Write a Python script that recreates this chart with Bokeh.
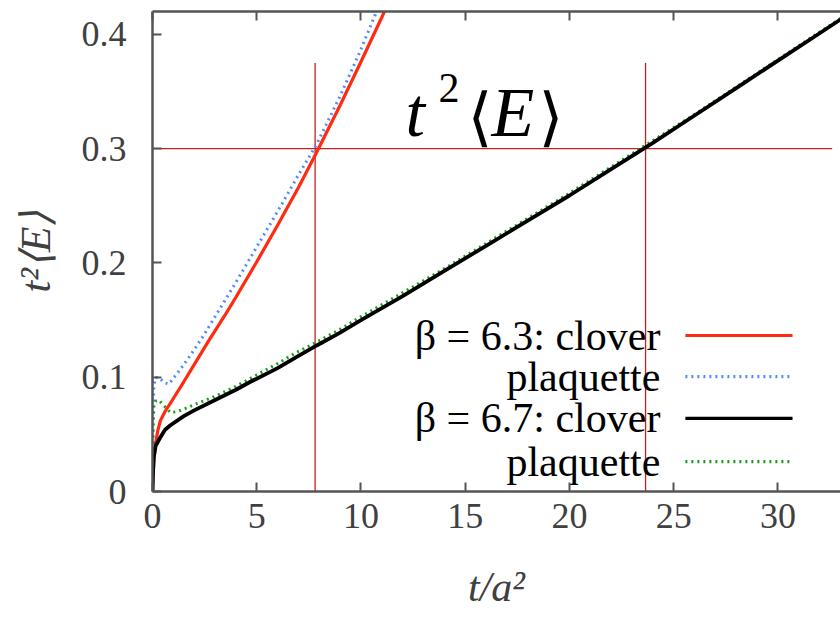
import numpy as np
from bokeh.plotting import figure
from bokeh.models import LinearAxis, FixedTicker, Range1d
from bokeh.core.properties import value
from bokeh.embed import file_html
from bokeh.resources import INLINE

# ---- data ----
red_t = [0, 0.03, 0.07, 0.15, 0.25, 0.38, 0.6, 0.94, 1.5, 2.0, 2.7, 3.5, 4.0, 5.0, 6.0, 7.0, 7.85, 9.0, 10.0, 11.0, 11.5]
red_v = [0, 0.015, 0.028, 0.042, 0.053, 0.062, 0.070, 0.0796, 0.096, 0.111, 0.132, 0.155, 0.170, 0.201, 0.233, 0.266, 0.296, 0.338, 0.376, 0.415, 0.435]

blue_t = [0, 0.01, 0.03, 0.07, 0.12, 0.22, 0.4, 0.6, 0.78, 1.0, 1.5, 2.0, 2.5, 3.0, 3.5, 4.0, 5.0, 6.0, 7.0, 7.85, 9.0, 10.0, 10.7, 11.0]
blue_v = [0, 0.030, 0.070, 0.092, 0.099, 0.100, 0.098, 0.095, 0.094, 0.099, 0.111, 0.124, 0.138, 0.153, 0.168, 0.183, 0.214, 0.245, 0.277, 0.303, 0.346, 0.387, 0.418, 0.431]

black_t = [0, 0.02, 0.06, 0.15, 0.38, 0.6, 0.86, 1.5, 2.0, 3.1, 4.0, 4.7, 6.0, 6.94, 7.9, 9.0, 10.0, 12.0, 14.0, 16.0, 18.0, 20.0, 22.0, 24.0, 26.0, 28.0, 30.0, 32.0, 33.0]
black_v = [0, 0.015, 0.030, 0.040, 0.0475, 0.054, 0.058, 0.066, 0.071, 0.081, 0.089, 0.096, 0.108, 0.118, 0.128, 0.139, 0.150, 0.171, 0.193, 0.215, 0.237, 0.259, 0.282, 0.305, 0.329, 0.353, 0.377, 0.401, 0.413]

green_t = [0, 0.01, 0.03, 0.07, 0.15, 0.3, 0.5, 0.86, 1.2, 1.5, 2.0, 3.1, 4.0, 4.7, 6.0, 6.94, 7.9, 9.0, 10.0, 12.0, 14.0, 16.0, 18.0, 20.0, 22.0, 24.0, 26.0, 28.0, 30.0, 32.0, 33.0]
green_v = [0, 0.030, 0.060, 0.075, 0.079, 0.080, 0.076, 0.069, 0.070, 0.072, 0.076, 0.084, 0.092, 0.099, 0.112, 0.122, 0.131, 0.142, 0.153, 0.174, 0.195, 0.217, 0.239, 0.261, 0.284, 0.307, 0.330, 0.354, 0.378, 0.402, 0.414]

x_ticks = [0, 5, 10, 15, 20, 25, 30]
y_ticks = [0, 0.1, 0.2, 0.3, 0.4]
y_tick_labels = {0: "0", 0.1: "0.1", 0.2: "0.2", 0.3: "0.3", 0.4: "0.4"}

ref_y = 0.3
ref_x = [7.8, 23.65]
ref_top = 0.375
ref_h_end = 32.6

legend_labels = ["β = 6.3: clover", "plaquette", "β = 6.7: clover", "plaquette"]
legend_colors = ["#ff2a10", "#4d8cff", "#000000", "#1a9e1a"]
legend_dashes = ["solid", "2 4", "solid", "2 4"]
legend_y = [0.1365, 0.1006, 0.0639, 0.0262]
legend_text_x = 24.36
legend_line_x = [25.56, 30.7]

title_x = 12.13
title_y = 0.3316

FONT = "Liberation Serif"
AX_COL = "#555555"
LAB_COL = "#404040"

p = figure(width=840, height=620, output_backend="svg", toolbar_location=None,
           x_range=Range1d(0, 33), y_range=Range1d(0, 0.42),
           min_border_left=152, min_border_right=0, min_border_top=11, min_border_bottom=129)
p.xgrid.visible = False
p.ygrid.visible = False
p.outline_line_color = None
p.background_fill_color = "white"
p.border_fill_color = "white"

for ax in [p.xaxis[0], p.yaxis[0]]:
    ax.axis_line_color = AX_COL
    ax.axis_line_width = 2.5
    ax.major_tick_line_color = AX_COL
    ax.major_tick_line_width = 2
    ax.major_tick_in = 9
    ax.major_tick_out = 0
    ax.minor_tick_line_color = None
    ax.major_label_text_font = FONT
    ax.major_label_text_font_size = "36px"
    ax.major_label_text_color = LAB_COL
    ax.axis_label_text_font = FONT
    ax.axis_label_text_font_size = "42px"
    ax.axis_label_text_font_style = "italic"
    ax.axis_label_text_color = LAB_COL

p.xaxis[0].ticker = FixedTicker(ticks=x_ticks)
p.xaxis[0].major_label_standoff = 12
p.xaxis[0].axis_label = "t/a²"
p.xaxis[0].axis_label_standoff = 33

p.yaxis[0].ticker = FixedTicker(ticks=y_ticks)
p.yaxis[0].major_label_overrides = y_tick_labels
p.yaxis[0].major_label_standoff = 26
p.yaxis[0].axis_label = "t²⟨E⟩"
p.yaxis[0].axis_label_standoff = 20

# mirrored ticks on the top edge (no labels)
top = LinearAxis(ticker=FixedTicker(ticks=x_ticks),
                 major_label_overrides={t: "" for t in x_ticks},
                 major_label_standoff=0, major_tick_in=9, major_tick_out=0,
                 axis_line_color=AX_COL, axis_line_width=2.5,
                 major_tick_line_color=AX_COL, major_tick_line_width=2,
                 minor_tick_line_color=None)
p.add_layout(top, "above")

# reference lines
p.segment(x0=[0], y0=[ref_y], x1=[ref_h_end], y1=[ref_y], line_color="#c42020", line_width=1.3)
p.segment(x0=ref_x, y0=[0, 0], x1=ref_x, y1=[ref_top, ref_top], line_color="#c42020", line_width=1.3)

# curves
p.line(blue_t, blue_v, line_color=legend_colors[1], line_width=3, line_dash=legend_dashes[1])
p.line(red_t, red_v, line_color=legend_colors[0], line_width=3.2)
p.line(green_t, green_v, line_color=legend_colors[3], line_width=3, line_dash=legend_dashes[3])
p.line(black_t, black_v, line_color=legend_colors[2], line_width=3.8)

# legend (gnuplot style: text right-aligned, sample on the right)
p.text(x=[legend_text_x] * 4, y=legend_y, text=legend_labels, text_align="right",
       text_baseline="middle", text_font=value(FONT), text_font_size="42px", text_color="black")
for yv, c, d in zip(legend_y, legend_colors, legend_dashes):
    p.line(legend_line_x, [yv, yv], line_color=c, line_width=3.2, line_dash=d)

# title t^2 <E>
p.text(x=[title_x], y=[title_y], text=["t"], text_font=value(FONT), text_font_size="70px",
       text_font_style="italic", text_baseline="alphabetic", text_color="black")
p.text(x=[title_x], y=[title_y], text=["2"], x_offset=33, y_offset=-25, text_font=value(FONT),
       text_font_size="42px", text_baseline="alphabetic", text_color="black")
p.text(x=[title_x], y=[title_y], text=["⟨"], x_offset=62, y_offset=4, text_font=value("DejaVu Serif"),
       text_font_size="64px", text_baseline="alphabetic", text_color="black")
p.text(x=[title_x], y=[title_y], text=["E"], x_offset=86, text_font=value(FONT),
       text_font_size="70px", text_font_style="italic", text_baseline="alphabetic", text_color="black")
p.text(x=[title_x], y=[title_y], text=["⟩"], x_offset=133, y_offset=4, text_font=value("DejaVu Serif"),
       text_font_size="64px", text_baseline="alphabetic", text_color="black")

open("out.html", "w").write(file_html(p, INLINE))
